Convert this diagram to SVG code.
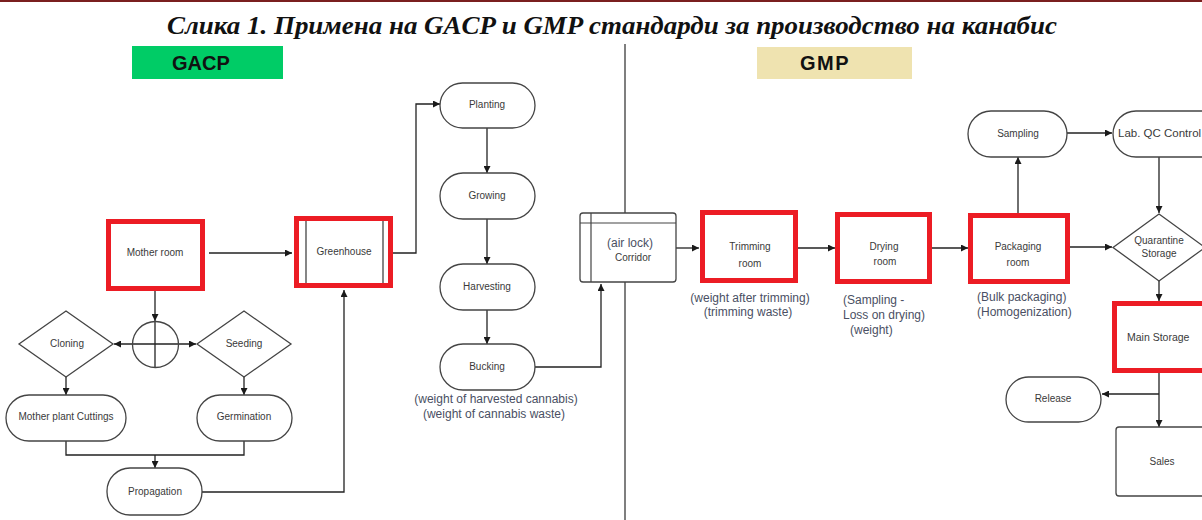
<svg xmlns="http://www.w3.org/2000/svg" width="1202" height="520" viewBox="0 0 1202 520">
<defs>
<marker id="arr" viewBox="0 0 10 10" markerUnits="userSpaceOnUse" markerWidth="9" markerHeight="7" refX="10" refY="5" orient="auto">
<path d="M0,0 L10,5 L0,10 z" fill="#1a1a1a"/>
</marker>
<style>
.ln{fill:none;stroke:#222;stroke-width:1.3}
.ar{fill:none;stroke:#222;stroke-width:1.3;marker-end:url(#arr)}
.sh{fill:#fff;stroke:#444;stroke-width:1.3}
.red{fill:#fff;stroke:#ec1c24;stroke-width:5}
.lb{font-family:"Liberation Sans",Arial,sans-serif;font-size:10px;fill:#3a3a3a;text-anchor:middle}
.ls{font-family:"Liberation Sans",Arial,sans-serif;font-size:10px;fill:#3a3a3a;text-anchor:start}
.an{font-family:"Liberation Sans",Arial,sans-serif;font-size:12px;fill:#4a4f63}
.hd{font-family:"Liberation Sans",Arial,sans-serif;font-size:20px;font-weight:bold;fill:#111}
</style>
</defs>
<rect x="0" y="0" width="1202" height="520" fill="#fff"/>
<rect x="0" y="0" width="1202" height="2" fill="#7a1f1f"/>
<text x="612" y="34" text-anchor="middle" font-family="'Liberation Serif','Times New Roman',serif" font-size="25" font-weight="bold" font-style="italic" fill="#111" textLength="890" lengthAdjust="spacingAndGlyphs">Слика 1.  Примена на GACP и GMP стандарди за производство на канабис</text>
<line x1="625" y1="44" x2="625" y2="520" stroke="#555" stroke-width="1.5"/>

<g id="hdr-gacp"><rect x="132" y="46" width="151" height="33" fill="#00cc66"/><text class="hd" x="172" y="70">GACP</text></g>
<g id="hdr-gmp"><rect x="757" y="47" width="155" height="32" fill="#efe3b0"/><text class="hd" x="800" y="70" letter-spacing="1.5">GMP</text></g>

<g id="connectors">
<line class="ar" x1="209" y1="253" x2="292" y2="253"/>
<line class="ar" x1="155" y1="291" x2="155" y2="321"/>
<line class="ar" x1="155" y1="344" x2="114" y2="344"/>
<line class="ar" x1="155" y1="344" x2="196" y2="344"/>
<line class="ln" x1="155" y1="321" x2="155" y2="367"/>
<line class="ar" x1="66" y1="377" x2="66" y2="395"/>
<line class="ar" x1="244" y1="377" x2="244" y2="395"/>
<polyline class="ln" points="66,441 66,455 244,455 244,441"/>
<line class="ar" x1="155" y1="455" x2="155" y2="468"/>
<polyline class="ar" points="202,492 344,492 344,290"/>
<polyline class="ar" points="393,253 416,253 416,104 440,104"/>
<line class="ar" x1="487" y1="128" x2="487" y2="173"/>
<line class="ar" x1="487" y1="219" x2="487" y2="264"/>
<line class="ar" x1="487" y1="310" x2="487" y2="344"/>
<polyline class="ar" points="535,367 601,367 601,284"/>
<line class="ar" x1="676" y1="248" x2="699" y2="248"/>
<line class="ar" x1="798" y1="248" x2="835" y2="248"/>
<line class="ar" x1="932" y1="248" x2="968" y2="248"/>
<line class="ar" x1="1018" y1="213" x2="1018" y2="157"/>
<line class="ar" x1="1067" y1="133" x2="1112" y2="133"/>
<line class="ar" x1="1070" y1="247" x2="1112" y2="247"/>
<line class="ar" x1="1159" y1="157" x2="1159" y2="213"/>
<line class="ar" x1="1159" y1="281" x2="1159" y2="301"/>
<line class="ar" x1="1159" y1="373" x2="1159" y2="427"/>
<line class="ar" x1="1159" y1="394" x2="1102" y2="394"/>
</g>

<g id="mother-room"><rect class="red" x="108.5" y="221.5" width="94" height="67"/><text class="lb" x="155" y="256">Mother room</text></g>
<g id="greenhouse"><rect class="red" x="296.5" y="218.5" width="94" height="67"/><line x1="306" y1="221" x2="306" y2="283" stroke="#444" stroke-width="1.3"/><line x1="383" y1="221" x2="383" y2="283" stroke="#444" stroke-width="1.3"/><text class="lb" x="344" y="255">Greenhouse</text></g>
<g id="junction"><circle cx="155.5" cy="344.5" r="23" fill="none" stroke="#444" stroke-width="1.3"/></g>
<g id="cloning"><polygon class="sh" points="66,311 113,344 66,377 19,344"/><text class="lb" x="67" y="347">Cloning</text></g>
<g id="seeding"><polygon class="sh" points="244,311 291,344 244,377 197,344"/><text class="lb" x="244" y="347">Seeding</text></g>
<g id="mother-plant-cuttings"><rect class="sh" x="6" y="395" width="120" height="46" rx="23"/><text class="lb" x="66" y="420">Mother plant  Cuttings</text></g>
<g id="germination"><rect class="sh" x="197" y="395" width="95" height="46" rx="23"/><text class="lb" x="244" y="420">Germination</text></g>
<g id="propagation"><rect class="sh" x="107" y="468" width="95" height="47" rx="23"/><text class="lb" x="155" y="495">Propagation</text></g>

<g id="planting"><rect class="sh" x="440" y="83" width="95" height="45" rx="22.5"/><text class="lb" x="487" y="108">Planting</text></g>
<g id="growing"><rect class="sh" x="440" y="173" width="95" height="46" rx="23"/><text class="lb" x="487" y="199">Growing</text></g>
<g id="harvesting"><rect class="sh" x="440" y="264" width="95" height="46" rx="23"/><text class="lb" x="487" y="290">Harvesting</text></g>
<g id="bucking"><rect class="sh" x="440" y="344" width="95" height="46" rx="23"/><text class="lb" x="487" y="370">Bucking</text>
<text class="an" x="496" y="403" text-anchor="middle">(weight of harvested cannabis)</text>
<text class="an" x="494" y="418" text-anchor="middle">(weight of cannabis waste)</text></g>

<g id="corridor"><rect class="sh" x="580" y="213" width="96" height="69" rx="3"/><line x1="580" y1="223" x2="676" y2="223" stroke="#444" stroke-width="1.2"/><line x1="591" y1="213" x2="591" y2="282" stroke="#444" stroke-width="1.2"/>
<text class="an" x="630" y="247" text-anchor="middle" font-size="11">(air lock)</text><text class="lb" x="633" y="261" font-size="10.5">Corridor</text></g>

<g id="trimming-room"><rect class="red" x="702.5" y="212.5" width="93" height="68"/><text class="lb" x="750" y="250">Trimming</text><text class="lb" x="750" y="267" font-size="11">room</text>
<text class="an" x="750" y="302" text-anchor="middle">(weight after trimming)</text>
<text class="an" x="748" y="316" text-anchor="middle">(trimming waste)</text></g>

<g id="drying-room"><rect class="red" x="837.5" y="214.5" width="92" height="67"/><text class="lb" x="884" y="250">Drying</text><text class="lb" x="885" y="265" font-size="11">room</text>
<text class="an" x="843" y="304">(Sampling -</text>
<text class="an" x="843" y="319">Loss on drying)</text>
<text class="an" x="850" y="334">(weight)</text></g>

<g id="packaging-room"><rect class="red" x="970.5" y="215.5" width="97" height="66"/><text class="lb" x="1018" y="250">Packaging</text><text class="lb" x="1018" y="266" font-size="11">room</text>
<text class="an" x="977" y="301">(Bulk packaging)</text>
<text class="an" x="977" y="316">(Homogenization)</text></g>

<g id="sampling"><rect class="sh" x="968" y="111" width="99" height="46" rx="23"/><text class="lb" x="1018" y="137">Sampling</text></g>
<g id="lab-qc-control"><rect class="sh" x="1113" y="111" width="120" height="46" rx="23"/><text class="ls" x="1118" y="137" style="font-size:11.5px">Lab. QC Control</text></g>
<g id="quarantine-storage"><polygon class="sh" points="1159,214 1205,247.5 1159,281 1113,247.5"/><text class="lb" x="1159" y="244">Quarantine</text><text class="lb" x="1159" y="257">Storage</text></g>
<g id="main-storage"><rect class="red" x="1114.5" y="303.5" width="100" height="67"/><text class="ls" x="1127" y="341" style="font-size:10.5px">Main Storage</text></g>
<g id="release"><rect class="sh" x="1006" y="377" width="95" height="45" rx="22.5"/><text class="lb" x="1053" y="402">Release</text></g>
<g id="sales"><rect class="sh" x="1116" y="427" width="100" height="69" rx="3"/><text class="lb" x="1162" y="465">Sales</text></g>
</svg>
